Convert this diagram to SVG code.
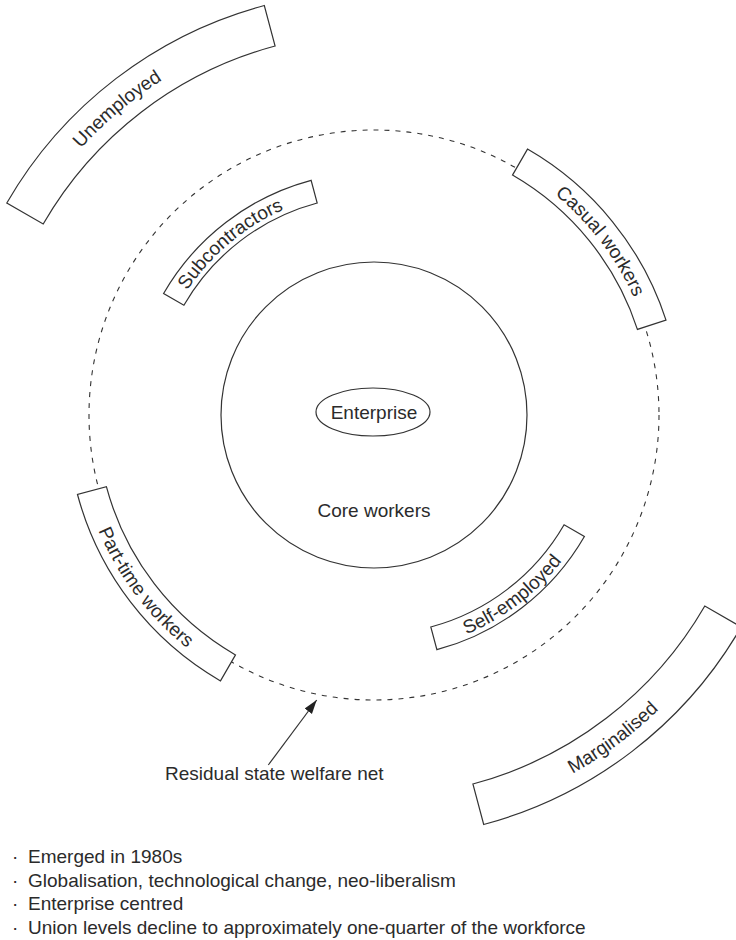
<svg xmlns="http://www.w3.org/2000/svg" width="736" height="940" viewBox="0 0 736 940">
<style>
  .ln { fill: none; stroke: #333; stroke-width: 1.2; }
  .box { fill: #fff; stroke: #333; stroke-width: 1.2; stroke-linejoin: miter; }
  .dash { fill: none; stroke: #333; stroke-width: 1.1; stroke-dasharray: 5 6; }
  .t { font-family: "Liberation Sans", Arial, sans-serif; font-size: 19px; fill: #2b2b2b; }
  .mid { text-anchor: middle; }
</style>
<defs>
  <marker id="ah" markerWidth="14" markerHeight="10" refX="14" refY="5" orient="auto" markerUnits="userSpaceOnUse">
    <path d="M0,0.5 L14,5 L0,9.5 Z" fill="#222"/>
  </marker>
  <path id="tp-unemp" d="M 1.7 279.5 A 396.2 396.2 0 0 1 305.2 24.8"/>
  <path id="tp-sub" d="M 163.1 338.2 A 224.45 224.45 0 0 1 335.0 194.0"/>
  <path id="tp-cas" d="M 483.1 151.5 A 285.2 285.2 0 0 1 656.7 377.8"/>
  <path id="tp-part" d="M 77.4 451.4 A 298.8 298.8 0 0 0 257.3 690.0"/>
  <path id="tp-self" d="M 405.1 651.0 A 238.05 238.05 0 0 0 593.9 506.1"/>
  <path id="tp-marg" d="M 420.4 822.2 A 409.8 409.8 0 0 0 749.8 578.4"/>
</defs>

<g id="welfare-net">
  <circle class="dash" cx="374" cy="415" r="285"/>
</g>

<g id="core-workers">
  <circle class="ln" cx="374" cy="415" r="153"/>
  <text class="t mid" x="374" y="517">Core workers</text>
</g>

<g id="enterprise">
  <ellipse class="ln" cx="373" cy="412" rx="57" ry="24"/>
  <text class="t mid" x="374" y="418.5">Enterprise</text>
</g>

<g id="unemployed">
  <path class="box" d="M 6.8 203 A 424 424 0 0 1 264.3 5.5 L 275.1 46 A 382 382 0 0 0 43.2 224 Z"/>
  <text class="t"><textPath href="#tp-unemp" startOffset="50%" text-anchor="middle">Unemployed</textPath></text>
</g>

<g id="subcontractors">
  <path class="box" d="M 163.6 293.5 A 243 243 0 0 1 311.1 180.3 L 317.2 203.0 A 219.5 219.5 0 0 0 183.9 305.25 Z"/>
  <text class="t"><textPath href="#tp-sub" startOffset="50%" text-anchor="middle">Subcontractors</textPath></text>
</g>

<g id="casual-workers">
  <path class="box" d="M 527.5 149.1 A 307 307 0 0 1 666.0 320.1 L 637.4 329.4 A 277 277 0 0 0 512.5 175.1 Z"/>
  <text class="t"><textPath href="#tp-cas" startOffset="50%" text-anchor="middle">Casual workers</textPath></text>
</g>

<g id="part-time-workers">
  <path class="box" d="M 77.5 494.5 A 307 307 0 0 0 220.5 680.9 L 235.5 654.9 A 277 277 0 0 1 106.4 486.7 Z"/>
  <text class="t"><textPath href="#tp-part" startOffset="50%" text-anchor="middle">Part-time workers</textPath></text>
</g>

<g id="self-employed">
  <path class="box" d="M 436.9 649.7 A 243 243 0 0 0 584.4 536.5 L 564.1 524.75 A 219.5 219.5 0 0 1 430.8 627.0 Z"/>
  <text class="t"><textPath href="#tp-self" startOffset="50%" text-anchor="middle">Self-employed</textPath></text>
</g>

<g id="marginalised">
  <path class="box" d="M 483.7 824.5 A 424 424 0 0 0 741.2 627 L 704.8 606 A 382 382 0 0 1 472.9 784 Z"/>
  <text class="t"><textPath href="#tp-marg" startOffset="50%" text-anchor="middle">Marginalised</textPath></text>
</g>

<g id="welfare-label">
  <text class="t" x="165" y="780">Residual state welfare net</text>
</g>

<g id="connectors">
  <line class="ln" x1="268.3" y1="765" x2="316.7" y2="700" marker-end="url(#ah)"/>
</g>

<g id="notes">
  <text class="t" x="12" y="863">·</text>
  <text class="t" x="28" y="863">Emerged in 1980s</text>
  <text class="t" x="12" y="887">·</text>
  <text class="t" x="28" y="887">Globalisation, technological change, neo-liberalism</text>
  <text class="t" x="12" y="910">·</text>
  <text class="t" x="28" y="910">Enterprise centred</text>
  <text class="t" x="12" y="934">·</text>
  <text class="t" x="28" y="934">Union levels decline to approximately one-quarter of the workforce</text>
</g>
</svg>
